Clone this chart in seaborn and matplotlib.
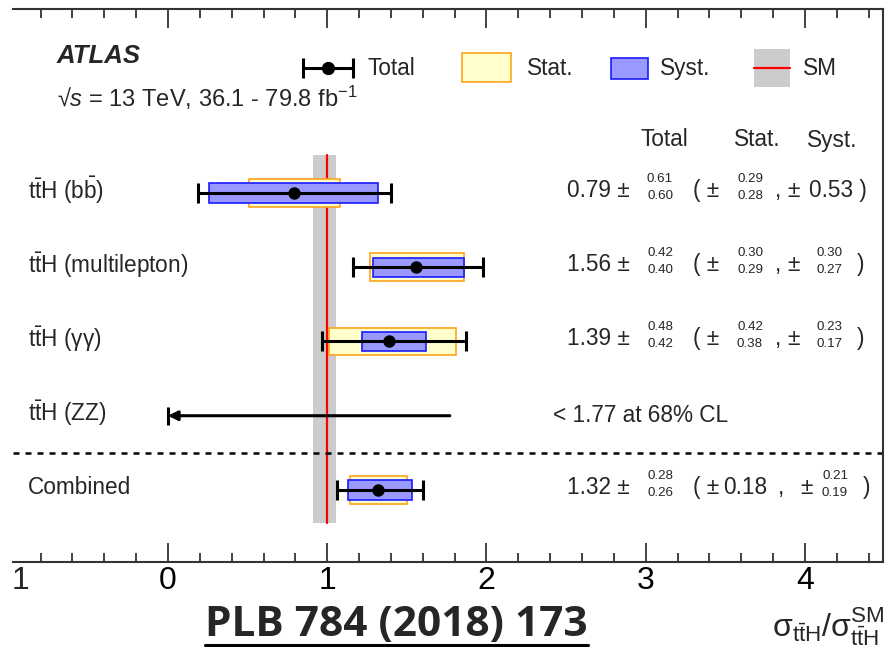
import numpy as np
import pandas as pd
import matplotlib
matplotlib.use("Agg")
import matplotlib.pyplot as plt
import matplotlib.transforms as mtrans
from matplotlib.lines import Line2D
from matplotlib.patches import Rectangle
from matplotlib.ticker import MultipleLocator
import seaborn as sns

# ---------------- data ----------------
channel_labels = [r"$\mathrm{t\bar{t}}$H (b$\mathrm{\bar{b}}$)",
                  r"$\mathrm{t\bar{t}}$H (multilepton)",
                  r"$\mathrm{t\bar{t}}$H (γγ)",
                  r"$\mathrm{t\bar{t}}$H (ZZ)",
                  "Combined"]
row_pos = [0, 1, 2, 3, 4]
mu = [0.79, 1.56, 1.39, np.nan, 1.32]
tot_up = [0.61, 0.42, 0.48, np.nan, 0.28]
tot_dn = [0.60, 0.40, 0.42, np.nan, 0.26]
stat_up = [0.29, 0.30, 0.42, np.nan, 0.18]
stat_dn = [0.28, 0.29, 0.38, np.nan, 0.18]
syst_up = [0.53, 0.30, 0.23, np.nan, 0.21]
syst_dn = [0.53, 0.27, 0.17, np.nan, 0.19]
zz_upper = 1.77
zz_text = "< 1.77 at 68% CL"
sm_value = 1.0
sm_lo, sm_hi = 0.908, 1.058
x_ticks = [0, 1, 2, 3, 4]
x_ticklabels = ["0", "1", "2", "3", "4"]
edge_ticklabel = "1"   # visible part of the cut "-1" label at the left edge

# ---------------- style ----------------
sns.set_theme(style="ticks")
plt.rcParams['font.family'] = ['Liberation Sans', 'DejaVu Sans']
plt.rcParams['mathtext.fontset'] = 'custom'
plt.rcParams['mathtext.rm'] = 'Liberation Sans'
plt.rcParams['mathtext.it'] = 'Liberation Sans:italic'
plt.rcParams['mathtext.bf'] = 'Liberation Sans:bold'

W, H = 888, 647
fig = plt.figure(figsize=(W / 100, H / 100), dpi=100)
fig.patch.set_facecolor('white')
ax = fig.add_axes([13 / W, 1 - 562 / H, (883 - 13) / W, (562 - 9) / H])
ax.set_facecolor('white')
ax.set_xlim(-0.973, 4.49)
ax.set_ylim(4.97, -2.478)

def fx(px):
    return px / W

def fy(py):
    return 1 - py / H

rowtr = mtrans.blended_transform_factory(fig.transFigure, ax.transData)

STAT_FC, STAT_EC = '#ffffcc', '#ffa31a'
SYST_FC, SYST_EC = '#9999ff', '#1a1aff'

# SM band and line
ax.fill_betweenx([-0.51, 4.44], sm_lo, sm_hi, color='#cccccc', lw=0, zorder=1)
ax.plot([sm_value, sm_value], [-0.51, 4.44], color='red', lw=1.6, zorder=2)

df = pd.DataFrame(dict(y=row_pos, mu=mu, tu=tot_up, td=tot_dn, su=stat_up, sd=stat_dn,
                       yu=syst_up, yd=syst_dn))
meas = df.dropna()

# stat and syst boxes
ax.barh(meas.y, meas.su + meas.sd, left=meas.mu - meas.sd, height=0.37,
        color=STAT_FC, edgecolor=STAT_EC, linewidth=1.2, zorder=3)
ax.barh(meas.y, meas.yu + meas.yd, left=meas.mu - meas.yd, height=0.26,
        color=SYST_FC, edgecolor=SYST_EC, linewidth=1.2, zorder=4)
# total error bars
ax.errorbar(meas.mu, meas.y, xerr=[meas.td, meas.tu], fmt='none', ecolor='black',
            elinewidth=2.2, capsize=7.2, capthick=2.2, zorder=5)
sns.scatterplot(data=meas, x='mu', y='y', color='black', s=80, edgecolor='black',
                linewidth=0, zorder=6, ax=ax, legend=False)

# ZZ upper limit arrow
ax.annotate("", xy=(0, row_pos[3]), xytext=(zz_upper, row_pos[3]),
            arrowprops=dict(arrowstyle='-|>', color='black', lw=2.2, mutation_scale=14,
                            shrinkA=0, shrinkB=0), zorder=5)
ax.plot([0], [row_pos[3]], marker='|', ms=13, mew=2.2, color='black', zorder=5)

# separator
ax.axhline(3.5, color='black', lw=1.8, ls=(0, (2.4, 2.4)), zorder=2)

# axes styling
ax.set_xticks(x_ticks)
ax.set_xticklabels(x_ticklabels)
ax.xaxis.set_minor_locator(MultipleLocator(0.2))
ax.set_yticks([])
ax.tick_params(axis='x', which='major', direction='in', length=13.5, width=1.2,
               top=True, bottom=True, labelsize=23, pad=3, colors='#222222', labelcolor='black')
ax.tick_params(axis='x', which='minor', direction='in', length=6.8, width=1.2,
               top=True, bottom=True, colors='#222222')
ax.spines['left'].set_visible(False)
for s in ['top', 'bottom', 'right']:
    ax.spines[s].set_linewidth(1.5)
    ax.spines[s].set_color('#333333')
ax.set_xlabel("")
ax.set_ylabel("")
# left-edge tick label (only its "1" is visible in the cropped original)
lab_tr = mtrans.offset_copy(mtrans.blended_transform_factory(fig.transFigure, ax.transAxes),
                            fig=fig, y=-3, units='points')
ax.text(fx(20), 0, edge_ticklabel, transform=lab_tr, ha='center', va='top', fontsize=23,
        clip_on=False)

# row labels
for lab, y in zip(channel_labels, row_pos):
    ax.text(fx(28), y - 0.03, lab, transform=rowtr, ha='left', va='center', fontsize=16.3)

# numbers
BIG, SMALL = 16.3, 9.6
def small_pair(xc, y, up, dn):
    ax.text(fx(xc), y - 0.15, f"{up:.2f}", transform=rowtr, ha='center', va='center', fontsize=SMALL)
    ax.text(fx(xc), y + 0.08, f"{dn:.2f}", transform=rowtr, ha='center', va='center', fontsize=SMALL)

for i in range(len(row_pos)):
    y = row_pos[i] - 0.04
    if np.isnan(mu[i]):
        ax.text(fx(553), row_pos[i], zz_text, transform=rowtr, ha='left', va='center', fontsize=BIG)
        continue
    ax.text(fx(567), y, f"{mu[i]:.2f} ±", transform=rowtr, ha='left', va='center', fontsize=BIG)
    small_pair(660, y, tot_up[i], tot_dn[i])
    ax.text(fx(693), y, "( ±", transform=rowtr, ha='left', va='center', fontsize=BIG)
    if stat_up[i] == stat_dn[i]:
        ax.text(fx(723), y, f"{stat_up[i]:.2f}", transform=rowtr, ha='left', va='center', fontsize=BIG)
        ax.text(fx(778), y, ",", transform=rowtr, ha='left', va='center', fontsize=BIG)
        ax.text(fx(800), y, "±", transform=rowtr, ha='left', va='center', fontsize=BIG)
        sx = 835
    else:
        small_pair(750, y, stat_up[i], stat_dn[i])
        ax.text(fx(775), y, ",", transform=rowtr, ha='left', va='center', fontsize=BIG)
        ax.text(fx(787), y, "±", transform=rowtr, ha='left', va='center', fontsize=BIG)
        sx = 829
    if syst_up[i] == syst_dn[i]:
        ax.text(fx(809), y, f"{syst_up[i]:.2f} )", transform=rowtr, ha='left', va='center', fontsize=BIG)
    else:
        small_pair(sx, y, syst_up[i], syst_dn[i])
        ax.text(fx(sx + 28), y, ")", transform=rowtr, ha='left', va='center', fontsize=BIG)

# column headers
for txt, xc in [("Total", 664), ("Stat.", 757), ("Syst.", 832)]:
    fig.text(fx(xc), fy(140), txt, ha='center', va='center', fontsize=16.3)

# ATLAS label
fig.text(fx(57), fy(56), "ATLAS", ha='left', va='center', fontsize=18.5,
         fontweight='bold', fontstyle='italic')
fig.text(fx(57), fy(98), r"√$s$ = 13 TeV, 36.1 - 79.8 fb$^{\mathrm{-1}}$",
         ha='left', va='center', fontsize=17)

# legend (drawn manually)
ly = -1.68
ax.errorbar([1.005], [ly], xerr=[[0.154], [0.154]], fmt='o', color='black', ms=8.5,
            elinewidth=2.2, capsize=7.2, capthick=2.2, zorder=6)
ax.add_patch(Rectangle((1.846, -1.886), 0.308, 0.39, fc=STAT_FC, ec=STAT_EC, lw=1.2, zorder=3))
ax.add_patch(Rectangle((2.782, -1.818), 0.232, 0.283, fc=SYST_FC, ec=SYST_EC, lw=1.2, zorder=3))
ax.add_patch(Rectangle((3.680, -1.94), 0.226, 0.51, fc='#cccccc', ec='none', zorder=3))
ax.plot([3.680, 3.906], [ly, ly], color='red', lw=1.6, zorder=4)
for txt, px in [("Total", 367), ("Stat.", 527), ("Syst.", 660), ("SM", 803)]:
    ax.text(fx(px), ly, txt, transform=rowtr, ha='left', va='center', fontsize=16.3)

# x-axis title
fig.text(fx(884), fy(637), r"$\mathrm{σ}_{\mathrm{t\bar{t}H}}/\mathrm{σ}_{\mathrm{t\bar{t}H}}^{\mathrm{SM}}$",
         ha='right', va='baseline', fontsize=23)

# reference caption, underlined
cap = fig.text(fx(205), fy(626), "PLB 784 (2018) 173", ha='left', va='center',
               fontsize=30, fontweight='bold', family=['Open Sans', 'DejaVu Sans'])
fig.canvas.draw()
r = fig.canvas.get_renderer()
bb = cap.get_window_extent(r)
cap.set_fontsize(30 * 383 / bb.width)
fig.canvas.draw()
bb = cap.get_window_extent(r)
fig.add_artist(Line2D([bb.x0, bb.x1], [H - 645, H - 645], transform=None,
                      color='black', lw=2.2))

fig.savefig("out.png", dpi=100, facecolor='white')
